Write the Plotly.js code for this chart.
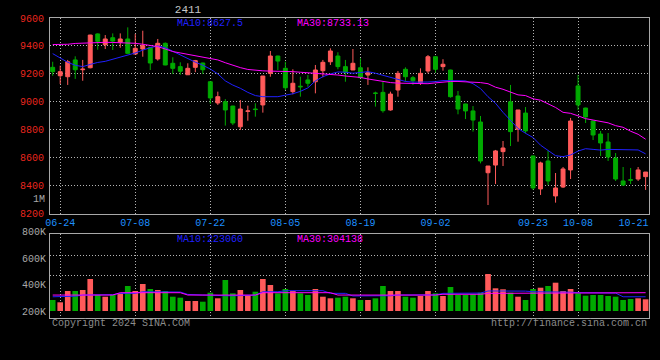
<!DOCTYPE html>
<html>
<head>
<meta charset="utf-8">
<script src="https://cdn.plot.ly/plotly-3.0.1.min.js"></script>
<style>html,body{margin:0;padding:0;background:#000;}#chart{width:660px;height:360px;}</style>
</head>
<body>
<div id="chart"></div>
<script>
const dates = ['06-21','06-24','06-25','06-26','06-27','06-28','07-01','07-02','07-03','07-04','07-05',
'07-08','07-09','07-10','07-11','07-12','07-15','07-16','07-17','07-18','07-19',
'07-22','07-23','07-24','07-25','07-26','07-29','07-30','07-31','08-01','08-02',
'08-05','08-06','08-07','08-08','08-09','08-12','08-13','08-14','08-15','08-16',
'08-19','08-20','08-21','08-22','08-23','08-26','08-27','08-28','08-29','08-30',
'09-02','09-03','09-04','09-05','09-06','09-09','09-10','09-11','09-12','09-13',
'09-18','09-19','09-20','09-23','09-24','09-25','09-26','09-27','09-30',
'10-08','10-09','10-10','10-11','10-14','10-15','10-16','10-17','10-18','10-21'];

const openP = [9247,9187,9180,9300,9230,9244,9486,9409,9459,9426,
9450,9342,9378,9390,9307,9419,9276,9252,9194,9247,
9278,9144,8992,9001,8970,8822,8932,8949,8978,9204,
9328,9240,9073,9112,9157,9144,9223,9287,9328,9252,
9228,9244,9192,9063,9068,8942,9085,9233,9173,9137,
9221,9323,9252,9228,9042,8985,8935,8856,8493,8548,
8644,9000,8804,8920,8613,8377,8577,8327,8391,8513,
9114,8956,8863,8770,8713,8598,8434,8443,8448,8465];
const highP = [9287,9259,9300,9326,9300,9480,9490,9478,9490,9490,
9533,9486,9509,9392,9450,9425,9319,9283,9276,9300,
9280,9146,9073,9020,8972,9013,8973,8990,9185,9364,
9330,9287,9233,9180,9192,9264,9300,9383,9355,9300,
9378,9312,9247,9073,9144,9073,9221,9247,9185,9240,
9335,9325,9305,9230,9078,8987,8970,8899,8541,8656,
8720,9121,8942,8963,8615,8572,8651,8491,8534,8885,
9192,8958,8865,8792,8777,8634,8534,8527,8534,8498];
const lowP = [9187,9128,9121,9164,9151,9240,9373,9378,9371,9387,
9345,9340,9323,9228,9295,9262,9199,9194,9192,9212,
9199,8986,8978,8830,8834,8799,8865,8894,8923,9180,
9228,9085,9054,9037,9108,9061,9176,9264,9233,9144,
9228,9173,9121,8966,8923,8937,9037,9144,9121,9121,
9204,9209,9223,9030,8911,8877,8787,8560,8262,8412,
8541,8684,8715,8775,8370,8334,8405,8279,8384,8448,
8942,8849,8727,8613,8577,8434,8398,8412,8434,8370];
const closeP = [9216,9216,9287,9230,9234,9478,9433,9450,9435,9450,
9347,9383,9402,9278,9419,9264,9240,9219,9240,9295,
9230,9028,9037,8942,8849,8949,8935,8945,9185,9328,
9292,9101,9133,9108,9133,9228,9283,9364,9252,9212,
9276,9173,9209,9061,8937,9056,9204,9180,9151,9204,
9323,9233,9269,9037,8949,8935,8870,8577,8541,8649,
8670,8787,8942,8792,8384,8563,8434,8384,8520,8863,
8978,8892,8763,8706,8606,8448,8405,8440,8513,8498];

const ma10 = [9345,9312,9283,9262,9252,9268,9282,9290,9305,9316,
9332,9350,9370,9388,9400,9388,9362,9335,9310,9284,
9262,9235,9200,9150,9120,9097,9068,9045,9037,9037,
9037,9048,9058,9075,9100,9150,9180,9200,9214,9212,
9205,9210,9216,9205,9190,9172,9160,9146,9141,9140,
9142,9145,9152,9152,9151,9150,9130,9095,9037,8990,
8925,8865,8810,8775,8745,8690,8650,8615,8608,8620,
8648,8665,8660,8655,8660,8660,8656,8656,8656,8628];
const ma30 = [9410,9410,9412,9418,9420,9425,9426,9426,9425,9424,
9422,9419,9412,9405,9395,9378,9360,9350,9340,9332,
9323,9315,9300,9280,9262,9245,9232,9225,9222,9220,
9220,9218,9216,9212,9208,9204,9202,9200,9192,9185,
9180,9175,9164,9155,9146,9138,9134,9133,9131,9130,
9130,9136,9142,9146,9146,9145,9144,9138,9130,9105,
9090,9068,9050,9045,9022,9012,8985,8960,8925,8918,
8900,8880,8870,8858,8850,8830,8818,8790,8768,8733];

const volume = [283500,266000,351800,351800,359400,442900,321400,308500,321400,334300,
389800,351800,404900,367000,359400,351800,308500,301000,275900,275900,
270600,338900,296400,435300,334300,359400,321400,346500,442900,397300,
334300,367000,351800,334300,321400,367000,308500,296400,301000,308500,
296400,283500,283500,296400,389800,351800,351800,308500,301000,313900,
351800,334300,313900,382200,321400,321400,326800,338900,480800,372300,
364700,338900,308500,283500,367000,376800,389800,414800,351800,367000,
334300,316100,321400,321400,313900,308500,283500,291100,296400,288800];
const volMa10 = [308000,308000,309000,312000,321000,321000,322000,321000,324000,334000,
335000,334000,346000,346000,347000,346000,346000,344000,326000,321000,
321000,320000,316000,316000,316000,317000,316000,320000,346000,346000,
346000,354000,354000,355000,354000,354000,354000,334000,334000,334000,
314000,314000,314000,314000,314000,316000,321000,321000,321000,321000,
321000,322000,334000,334000,334000,334000,334000,336000,352000,352000,
352000,352000,352000,351000,346000,346000,346000,346000,346000,343000,
339000,339000,339000,339000,339000,336000,308000,308000,308000,308000];
const volMa30 = [321000,321000,321000,321000,321000,321000,321000,321000,321000,339000,
339000,339000,339000,339000,339000,339000,339000,339000,321000,321000,
321000,321000,321000,321000,321000,321000,321000,321000,339000,339000,
339000,339000,339000,339000,339000,339000,339000,339000,321000,321000,
321000,321000,321000,321000,321000,321000,321000,321000,321000,321000,
321000,321000,327000,327000,327000,327000,327000,327000,334000,334000,
334000,334000,334000,334000,334000,334000,334000,334000,334000,334000,
339000,339000,339000,339000,339000,339000,339000,339000,339000,339000];

const gridDates = ['06-24','07-08','07-22','08-05','08-19','09-02','09-23','10-08'];
const labelDates = ['06-24','07-08','07-22','08-05','08-19','09-02','09-23','10-08','10-21'];
const priceTicks = [8200,8400,8600,8800,9000,9200,9400,9600];
const volTickVals = [200000,400000,600000,800000];
const volTickText = ['200K','400K','600K','800K'];
const titleText = '2411';
const legendPrice = ['MA10:8627.5','MA30:8733.13'];
const legendVol = ['MA10:223060','MA30:304138'];

const RED = '#ff5a5a', GREEN = '#00aa00', BLUE = '#2020ff', MAG = '#ff00ff';
const GRID = '#b4b4b4', BORDER = '#a8a8a8', DOT = '1px,2px';
const FONT = 'Liberation Mono, DejaVu Sans Mono, monospace';

const xs = dates.map((d, i) => i);
const last = dates.length - 1;
const gridVals = gridDates.map(d => dates.indexOf(d));
const labelVals = labelDates.map(d => Math.min(dates.indexOf(d), last - 1.6));
const xRange = [-0.36, last + 0.45];
const volBase = 200000;
const volColors = xs.map(i => closeP[i] >= openP[i] ? RED : GREEN);

const traces = [
  {type:'candlestick', x:xs, open:openP, high:highP, low:lowP, close:closeP,
   xaxis:'x', yaxis:'y',
   increasing:{line:{color:RED, width:1}, fillcolor:RED},
   decreasing:{line:{color:GREEN, width:1}, fillcolor:GREEN},
   whiskerwidth:0, hoverinfo:'skip'},
  {type:'scatter', mode:'lines', x:xs, y:ma10, xaxis:'x', yaxis:'y', line:{color:BLUE, width:1}},
  {type:'scatter', mode:'lines', x:xs, y:ma30, xaxis:'x', yaxis:'y', line:{color:MAG, width:1}},
  {type:'bar', x:xs, y:volume.map(v => v - volBase), base:volBase, xaxis:'x2', yaxis:'y2',
   marker:{color:volColors, line:{width:0}}},
  {type:'scatter', mode:'lines', x:xs, y:volMa10, xaxis:'x2', yaxis:'y2', line:{color:BLUE, width:1}},
  {type:'scatter', mode:'lines', x:xs, y:volMa30, xaxis:'x2', yaxis:'y2', line:{color:MAG, width:1}},
  {type:'scatter', mode:'markers', x:[null], y:[null], xaxis:'x3', yaxis:'y', hoverinfo:'skip'},
  {type:'scatter', mode:'markers', x:[null], y:[null], xaxis:'x4', yaxis:'y4', hoverinfo:'skip'}
];

const axFont = {family:FONT, size:10};
const layout = {
  width:660, height:360,
  margin:{l:50, r:11, t:18, b:42},
  paper_bgcolor:'#000', plot_bgcolor:'rgba(0,0,0,0)',
  showlegend:false, bargap:0.25, boxgap:0.25,
  font:{family:FONT, size:10, color:'#aaa'},
  title:{text:titleText, x:188/660, xanchor:'center', y:1 - 9.5/360, yanchor:'middle',
         font:{family:FONT, size:11, color:'#c8c8c8'}},
  xaxis:{domain:[0,1], anchor:'y', range:xRange, tickvals:gridVals, showticklabels:false,
         ticks:'', showgrid:true, gridcolor:GRID, griddash:DOT, gridwidth:1,
         showline:true, mirror:true, linecolor:BORDER, linewidth:1, zeroline:false,
         rangeslider:{visible:false}},
  xaxis3:{overlaying:'x', anchor:'y', side:'bottom', range:xRange, tickvals:labelVals,
          ticktext:labelDates, showgrid:false, ticks:'', zeroline:false, showline:false,
          tickfont:Object.assign({color:'#1e90ff'}, axFont), ticklabelstandoff:1},
  yaxis:{domain:[0.3477,1], anchor:'x', range:[8200,9600], tickvals:priceTicks,
         tickfont:Object.assign({color:'#e8261e'}, axFont), ticks:'',
         showgrid:true, gridcolor:GRID, griddash:DOT, gridwidth:1,
         showline:true, mirror:true, linecolor:BORDER, linewidth:1, zeroline:false,
         ticklabelstandoff:3},
  xaxis2:{domain:[0,1], anchor:'y2', range:xRange, tickvals:gridVals, showticklabels:false,
          ticks:'', showgrid:true, gridcolor:GRID, griddash:DOT, gridwidth:1,
          showline:true, mirror:true, linecolor:BORDER, linewidth:1, zeroline:false},
  yaxis2:{domain:[0,0.279], anchor:'x2', range:[146870,782150], tickvals:[470960,622760],
          showticklabels:false, ticks:'', showgrid:true, gridcolor:GRID, griddash:DOT,
          gridwidth:1, showline:true, mirror:true, linecolor:BORDER, linewidth:1, zeroline:false},
  xaxis4:{domain:[0,1], anchor:'y4', range:xRange, visible:false, showgrid:false, zeroline:false},
  yaxis4:{domain:[0,0.3], anchor:'x4', range:[146870,829970], tickvals:volTickVals,
          ticktext:volTickText, tickfont:Object.assign({color:'#a8a8a8'}, axFont),
          showgrid:false, showline:false, zeroline:false, ticks:'', ticklabelstandoff:3},
  annotations:[
    {xref:'paper', yref:'paper', x:(175-50)/599, y:(318-23.3)/300, xanchor:'left', yanchor:'middle',
     text:legendPrice[0], showarrow:false, font:{family:FONT, size:10, color:BLUE}},
    {xref:'paper', yref:'paper', x:(294.7-50)/599, y:(318-23.3)/300, xanchor:'left', yanchor:'middle',
     text:legendPrice[1], showarrow:false, font:{family:FONT, size:10, color:MAG}},
    {xref:'paper', yref:'paper', x:(175-50)/599, y:(318-239)/300, xanchor:'left', yanchor:'middle',
     text:legendVol[0], showarrow:false, font:{family:FONT, size:10, color:BLUE}},
    {xref:'paper', yref:'paper', x:(294.7-50)/599, y:(318-239)/300, xanchor:'left', yanchor:'middle',
     text:legendVol[1], showarrow:false, font:{family:FONT, size:10, color:MAG}},
    {xref:'paper', yref:'y', x:0, y:8298, xanchor:'right', yanchor:'middle', xshift:-3,
     text:'1M', showarrow:false, font:{family:FONT, size:10, color:'#a8a8a8'}},
    {xref:'paper', yref:'paper', x:0, y:(318-323.7)/300, xanchor:'left', yanchor:'middle',
     text:'Copyright 2024 SINA.COM', showarrow:false, font:{family:FONT, size:10, color:'#8c8c8c'}},
    {xref:'paper', yref:'paper', x:1, y:(318-323.7)/300, xanchor:'right', yanchor:'middle',
     text:'http://finance.sina.com.cn', showarrow:false, font:{family:FONT, size:10, color:'#8c8c8c'}}
  ]
};

Plotly.newPlot('chart', traces, layout, {staticPlot:true, displayModeBar:false});
</script>
</body>
</html>
